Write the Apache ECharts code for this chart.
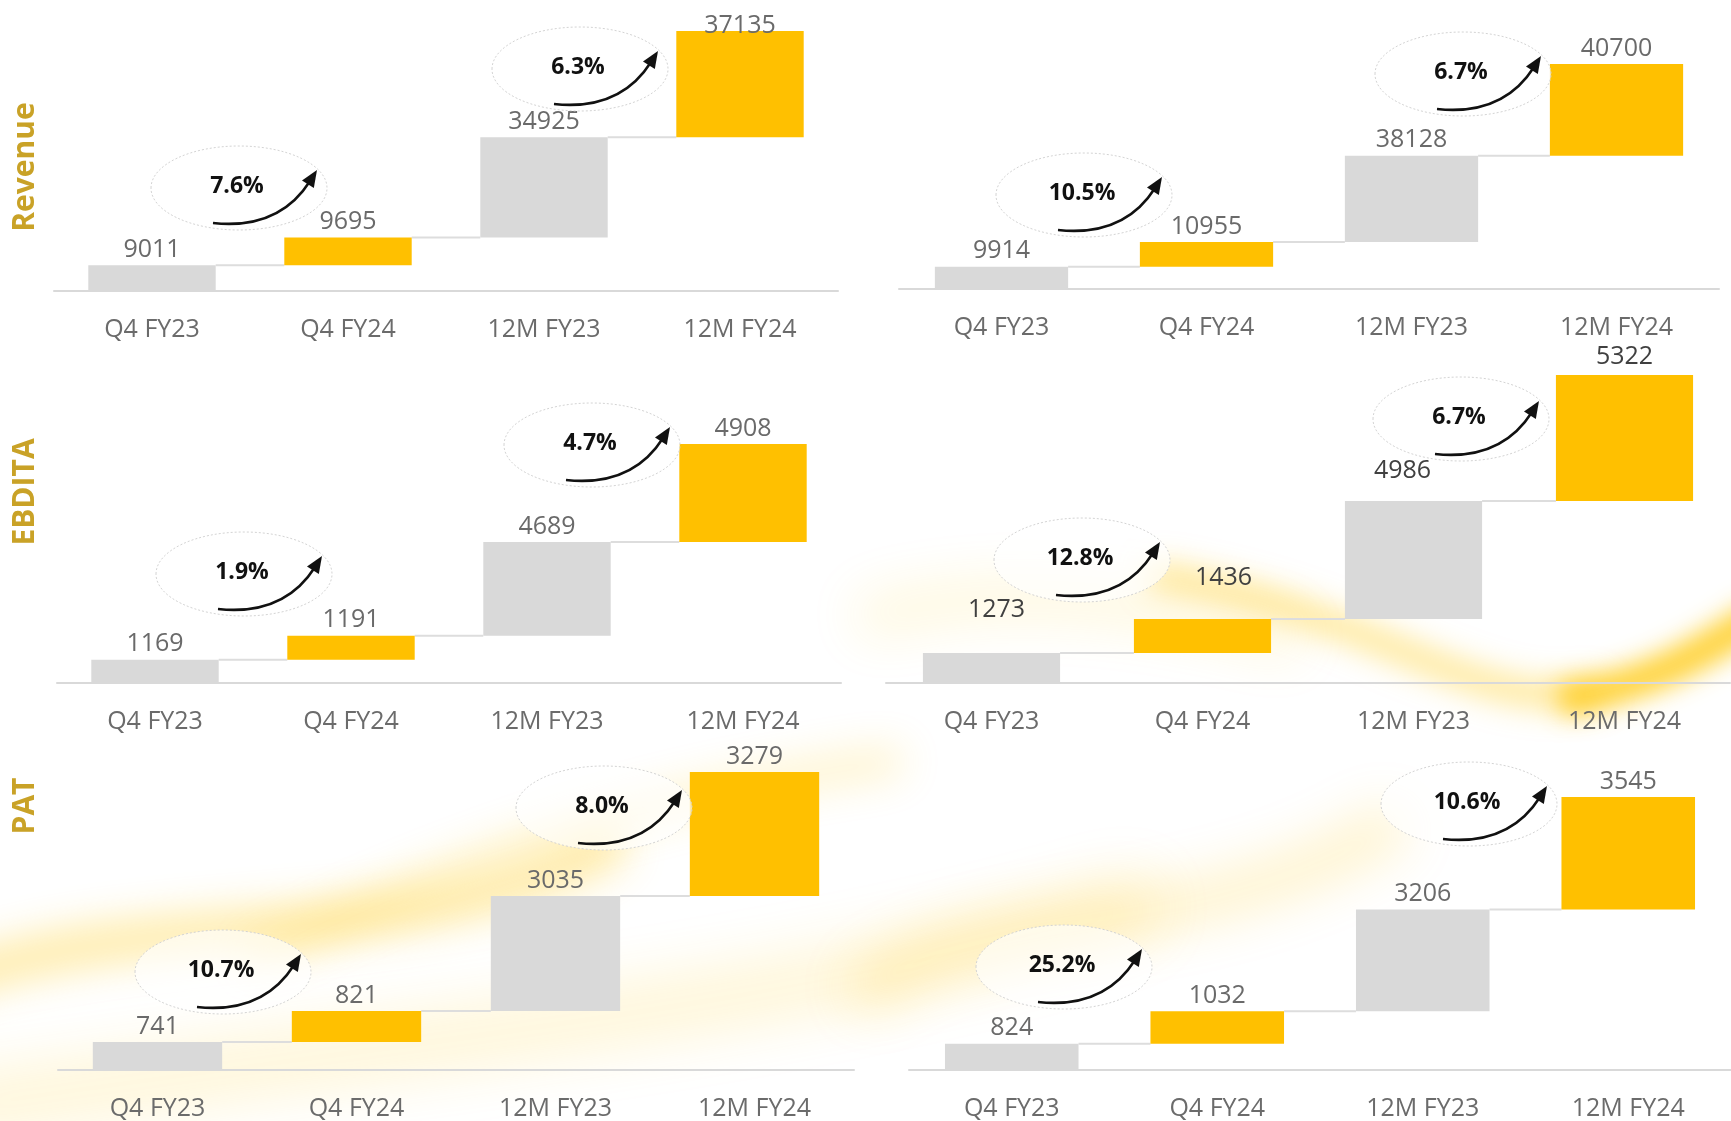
<!DOCTYPE html>
<html lang="en">
<head>
  <meta http-equiv="Content-Type" content="text/html; charset=UTF-8">
  <title>ECharts</title>
  <script type="text/javascript" src="https://cdn.jsdelivr.net/npm/echarts@6/dist/echarts.min.js"></script>
  <style>
    html, body { margin: 0; padding: 0; background: #fff; }
  </style>
</head>

<body>
<div id="main" style="width: 1731px;height:1121px;"></div>
<script type="text/javascript">
  // categories and values
  var categories = ['Q4 FY23', 'Q4 FY24', '12M FY23', '12M FY24'];
  var revenueLeft = [9011, 9695, 34925, 37135];
  var revenueRight = [9914, 10955, 38128, 40700];
  var ebditaLeft = [1169, 1191, 4689, 4908];
  var ebditaRight = [1273, 1436, 4986, 5322];
  var patLeft = [741, 821, 3035, 3279];
  var patRight = [824, 1032, 3206, 3545];
  // growth bubbles: quarter, full year
  var revenueLeftGrowth = ['7.6%', '6.3%'];
  var revenueRightGrowth = ['10.5%', '6.7%'];
  var ebditaLeftGrowth = ['1.9%', '4.7%'];
  var ebditaRightGrowth = ['12.8%', '6.7%'];
  var patLeftGrowth = ['10.7%', '8.0%'];
  var patRightGrowth = ['25.2%', '10.6%'];
  var rowTitles = ['Revenue', 'EBDITA', 'PAT'];

  var barColors = ['#D9D9D9', '#FFC000', '#D9D9D9', '#FFC000'];
  var FONT = '"Open Sans", "Noto Sans", sans-serif';

  // layout of the six panels
  var panels = [
    { values: revenueLeft, growth: revenueLeftGrowth,
      grid: { left: 54, top: 31, width: 784, height: 260 },
      bubbles: [[237, 186], [578, 67]],
      offsets: [[0, 0], [0, 0], [0, 0], [0, 10]], labelColor: '#6a6a6a' },
    { values: revenueRight, growth: revenueRightGrowth,
      grid: { left: 899, top: 64, width: 820, height: 225 },
      bubbles: [[1082, 193], [1461, 72]],
      offsets: [[0, 0], [0, 0], [0, 0], [0, 0]], labelColor: '#6a6a6a' },
    { values: ebditaLeft, growth: ebditaLeftGrowth,
      grid: { left: 57, top: 444, width: 784, height: 239 },
      bubbles: [[242, 572], [590, 443]],
      offsets: [[0, 0], [0, 0], [0, 0], [0, 0]], labelColor: '#6a6a6a' },
    { values: ebditaRight, growth: ebditaRightGrowth,
      grid: { left: 886, top: 375, width: 844, height: 308 },
      bubbles: [[1080, 558], [1459, 417]],
      offsets: [[5, -28], [21, -26], [-11, -15], [0, -3]], labelColor: '#404040' },
    { values: patLeft, growth: patLeftGrowth,
      grid: { left: 58, top: 772, width: 796, height: 298 },
      bubbles: [[221, 970], [602, 806]],
      offsets: [[0, 0], [0, 0], [0, 0], [0, 0]], labelColor: '#6a6a6a' },
    { values: patRight, growth: patRightGrowth,
      grid: { left: 909, top: 797, width: 832, height: 274 },
      bubbles: [[1062, 965], [1467, 802]],
      offsets: [[0, 0], [0, 0], [0, 0], [0, 0]], labelColor: '#6a6a6a' }
  ];
  var titlePos = [[25, 167], [25, 492], [25, 806]];

  var grids = [], xAxes = [], yAxes = [], series = [];
  var graphics = [];

  // soft yellow swooshes in the background (only the blurred shadow is on screen)
  var OFF = 4000;
  var swooshes = [
    { shape: { x1: -60, y1: 985, cpx1: 150, cpy1: 900, cpx2: 420, cpy2: 960, x2: 620, y2: 840 }, w: 34, b: 40, o: 0.45 },
    { shape: { x1: 250, y1: 960, cpx1: 420, cpy1: 880, cpx2: 600, cpy2: 800, x2: 900, y2: 760 }, w: 22, b: 40, o: 0.3 },
    { shape: { x1: -60, y1: 1110, cpx1: 400, cpy1: 1040, cpx2: 800, cpy2: 1010, x2: 1150, y2: 900 }, w: 50, b: 60, o: 0.22 },
    { shape: { x1: 860, y1: 1000, cpx1: 950, cpy1: 900, cpx2: 1200, cpy2: 950, x2: 1400, y2: 820 }, w: 40, b: 50, o: 0.25 },
    { shape: { x1: 1150, y1: 575, cpx1: 1380, cpy1: 610, cpx2: 1480, cpy2: 720, x2: 1600, y2: 690 }, w: 24, b: 30, o: 0.5 },
    { shape: { x1: 1560, y1: 700, cpx1: 1650, cpy1: 685, cpx2: 1700, cpy2: 655, x2: 1760, y2: 615 }, w: 34, b: 25, o: 0.85 },
    { shape: { x1: 860, y1: 620, cpx1: 1000, cpy1: 580, cpx2: 1150, cpy2: 600, x2: 1300, y2: 640 }, w: 40, b: 50, o: 0.15 }
  ];
  swooshes.forEach(function (s) {
    var sh = s.shape;
    graphics.push({
      type: 'bezierCurve', z: -10, silent: true,
      shape: {
        x1: sh.x1 - OFF, y1: sh.y1, cpx1: sh.cpx1 - OFF, cpy1: sh.cpy1,
        cpx2: sh.cpx2 - OFF, cpy2: sh.cpy2, x2: sh.x2 - OFF, y2: sh.y2
      },
      style: {
        stroke: '#000', lineWidth: s.w, fill: null,
        shadowBlur: s.b, shadowOffsetX: OFF, shadowColor: 'rgba(255, 205, 30, ' + s.o + ')'
      }
    });
  });

  panels.forEach(function (p, k) {
    // bases of the floating bars: running total of earlier values
    var bases = [], tops = [], run = 0;
    p.values.forEach(function (v) { bases.push(run); run += v; tops.push(run); });

    grids.push(p.grid);
    xAxes.push({
      type: 'category', gridIndex: k, data: categories,
      axisLine: { lineStyle: { color: '#D9D9D9', width: 2 } },
      axisTick: { show: false },
      axisLabel: { color: '#6b6b6b', fontSize: 25, fontFamily: FONT, margin: 26 }
    });
    yAxes.push({ type: 'value', gridIndex: k, min: 0, max: run, show: false, splitLine: { show: false } });

    series.push({
      type: 'bar', xAxisIndex: k, yAxisIndex: k, stack: 'w' + k, barWidth: '65%',
      silent: true, itemStyle: { color: 'transparent' }, data: bases
    });
    series.push({
      type: 'bar', xAxisIndex: k, yAxisIndex: k, stack: 'w' + k, barWidth: '65%',
      label: {
        show: true, position: 'top', distance: 3, fontSize: 25, lineHeight: 25,
        fontFamily: FONT, color: p.labelColor
      },
      data: p.values.map(function (v, i) {
        return { value: v, itemStyle: { color: barColors[i] }, label: { offset: p.offsets[i] } };
      })
    });
    // thin connector lines from each bar top to the next bar
    series.push({
      type: 'custom', xAxisIndex: k, yAxisIndex: k, silent: true, z: 1,
      encode: { x: 0, y: 1 },
      data: tops.slice(0, 3).map(function (t, i) { return [i, t]; }),
      renderItem: function (params, api) {
        var i = api.value(0), y = api.value(1);
        var a = api.coord([i, y]), b = api.coord([i + 1, y]);
        var half = api.size([1, 0])[0] * 0.65 / 2;
        return {
          type: 'line',
          shape: { x1: a[0] + half, y1: a[1], x2: b[0] - half, y2: b[1] },
          style: { stroke: '#DDDDDD', lineWidth: 2 }
        };
      }
    });

    // growth bubbles with curved arrows
    p.bubbles.forEach(function (c, j) {
      var cx = c[0], cy = c[1];
      var sx = cx - 24, sy = cy + 37, qx = cx + 42, qy = cy + 44, tx = cx + 80, ty = cy - 16;
      var ang = Math.atan2(ty - qy, tx - qx);
      var L = 17, W = 7;
      var bx = tx - L * Math.cos(ang), by = ty - L * Math.sin(ang);
      graphics.push({
        type: 'ellipse', z: 5, silent: true,
        shape: { cx: cx + 2, cy: cy + 2, rx: 88, ry: 42 },
        style: { fill: 'rgba(255,255,255,0.65)', stroke: '#D4D4D4', lineWidth: 1, lineDash: [2, 2] }
      });
      graphics.push({
        type: 'text', z: 6, silent: true, x: cx, y: cy,
        style: {
          text: p.growth[j], fontSize: 23, fontWeight: 'bold', fontFamily: FONT,
          fill: '#111111', align: 'center', verticalAlign: 'middle'
        }
      });
      graphics.push({
        type: 'bezierCurve', z: 6, silent: true,
        shape: { x1: sx, y1: sy, cpx1: qx, cpy1: qy, x2: bx + 4 * Math.cos(ang), y2: by + 4 * Math.sin(ang) },
        style: { stroke: '#111111', lineWidth: 2.5, fill: null }
      });
      graphics.push({
        type: 'polygon', z: 6, silent: true,
        shape: {
          points: [
            [tx, ty],
            [bx - W * Math.sin(ang), by + W * Math.cos(ang)],
            [bx + W * Math.sin(ang), by - W * Math.cos(ang)]
          ]
        },
        style: { fill: '#111111' }
      });
    });
  });

  rowTitles.forEach(function (t, r) {
    graphics.push({
      type: 'text', z: 6, silent: true, x: titlePos[r][0], y: titlePos[r][1], rotation: Math.PI / 2,
      style: {
        text: t, fontSize: 30, fontWeight: 'bold', fontFamily: FONT,
        fill: '#C9A227', align: 'center', verticalAlign: 'middle'
      }
    });
  });

  var myChart = echarts.init(document.getElementById('main'));
  myChart.setOption({
    backgroundColor: '#ffffff',
    animation: false,
    grid: grids,
    xAxis: xAxes,
    yAxis: yAxes,
    series: series,
    graphic: { elements: graphics }
  });
</script>
</body>
</html>
